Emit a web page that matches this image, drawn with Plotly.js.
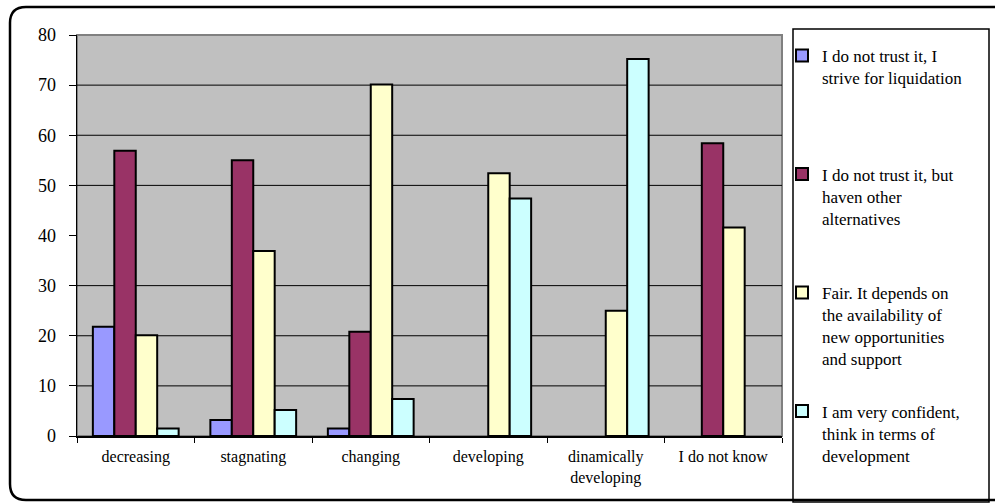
<!DOCTYPE html>
<html>
<head>
<meta charset="utf-8">
<script src="https://cdn.plot.ly/plotly-3.0.1.min.js"></script>
<style>html,body{margin:0;padding:0;background:#fff;}#chart{width:995px;height:504px;}</style>
</head>
<body>
<div id="chart"></div>
<script>
// ---- data ----
const categories = ['decreasing', 'stagnating', 'changing', 'developing', 'dinamically<br>developing', 'I do not know'];
const seriesNames = [
  'I do not trust it, I<br>strive for liquidation',
  'I do not trust it, but<br>haven other<br>alternatives',
  'Fair. It depends on<br>the availability of<br>new opportunities<br>and support',
  'I am very confident,<br>think in terms of<br>development'
];
const distrustLiquidation = [21.8, 3.2, 1.5, null, null, null];
const distrustNoAlternative = [56.9, 55.0, 20.8, null, null, 58.4];
const fairDepends = [20.1, 36.9, 70.1, 52.4, 25.0, 41.6];
const veryConfident = [1.5, 5.2, 7.4, 47.4, 75.2, null];
const yTickVals = [0, 10, 20, 30, 40, 50, 60, 70, 80];
const gridVals = [10, 20, 30, 50, 60, 70];

// ---- styles ----
const colors = ['#9999FF', '#993366', '#FFFFCC', '#CCFFFF'];
const allSeries = [distrustLiquidation, distrustNoAlternative, fairDepends, veryConfident];
const FONT = 'Liberation Serif, Times New Roman, serif';

function padLines(name, n) {
  const lines = name.split('<br>');
  while (lines.length < n) lines.push('\u00A0');
  return lines.join('<br>');
}

const traces = allSeries.map((vals, i) => ({
  type: 'bar',
  x: categories,
  y: vals,
  name: i < allSeries.length - 1 ? padLines(seriesNames[i], 5) : seriesNames[i],
  legendgroup: 'g' + i,
  marker: { color: colors[i], line: { color: '#000000', width: 2 } },
  hoverinfo: 'x+y'
}));

// layout geometry (pixels)
const W = 995, H = 504, L = 77, R = 213, T = 35, B = 68;
const pw = W - L - R, ph = H - T - B;
const px = x => (x - L) / pw;
const py = y => (H - B - y) / ph;

const x0 = px(10), x1 = px(1002), y0 = py(500), y1 = py(7);
const rx = 16 / pw, ry = 16 / ph;
const borderPath = `M ${x1},${y1} L ${x0 + rx},${y1} Q ${x0},${y1} ${x0},${y1 - ry} ` +
  `L ${x0},${y0 + ry} Q ${x0},${y0} ${x0 + rx},${y0} L ${x1},${y0}`;

const gridShapes = gridVals.map(v => ({
  type: 'line', xref: 'x domain', yref: 'y', x0: 0, x1: 1, y0: v, y1: v,
  line: { color: '#000000', width: 1 }, layer: 'below'
}));

const layout = {
  width: W, height: H,
  margin: { l: L, r: R, t: T, b: B, pad: 0 },
  paper_bgcolor: '#ffffff',
  plot_bgcolor: '#C0C0C0',
  font: { family: FONT, color: '#000000' },
  barmode: 'group',
  bargap: 0.27,
  bargroupgap: 0,
  showlegend: true,
  legend: {
    x: px(782), y: py(38), xanchor: 'left', yanchor: 'top',
    maxheight: 480,
    bgcolor: 'rgba(0,0,0,0)', borderwidth: 0,
    font: { family: FONT, size: 17, color: '#000000' },
    traceorder: 'grouped', tracegroupgap: 5, valign: 'top'
  },
  xaxis: {
    type: 'category',
    showgrid: false, zeroline: false,
    showline: true, linecolor: '#000000', linewidth: 1.5,
    ticks: 'outside', tickson: 'boundaries', ticklen: 5, tickcolor: '#000000', tickwidth: 1,
    tickfont: { family: FONT, size: 16, color: '#000000' },
    ticklabelstandoff: 5,
    fixedrange: true
  },
  yaxis: {
    range: [0, 80], tickvals: yTickVals, ticktext: yTickVals.map(String),
    showgrid: false, zeroline: false,
    showline: true, linecolor: '#000000', linewidth: 1.5,
    ticks: 'outside', ticklen: 7, tickcolor: '#000000', tickwidth: 1,
    tickfont: { family: FONT, size: 18, color: '#000000' },
    ticklabelstandoff: 9,
    fixedrange: true
  },
  shapes: [
    { type: 'rect', xref: 'x domain', yref: 'y domain', x0: 0, x1: 1, y0: 0, y1: 1,
      line: { color: '#808080', width: 2 }, fillcolor: 'rgba(0,0,0,0)', layer: 'below' },
    ...gridShapes,
    { type: 'rect', xref: 'paper', yref: 'paper', x0: px(793), x1: px(989), y0: py(502), y1: py(29),
      line: { color: '#000000', width: 1.5 }, fillcolor: 'rgba(0,0,0,0)' },
    { type: 'path', xref: 'paper', yref: 'paper', path: borderPath,
      line: { color: '#000000', width: 2.5 } }
  ]
};

Plotly.newPlot('chart', traces, layout, { displayModeBar: false, staticPlot: true });
</script>
</body>
</html>
